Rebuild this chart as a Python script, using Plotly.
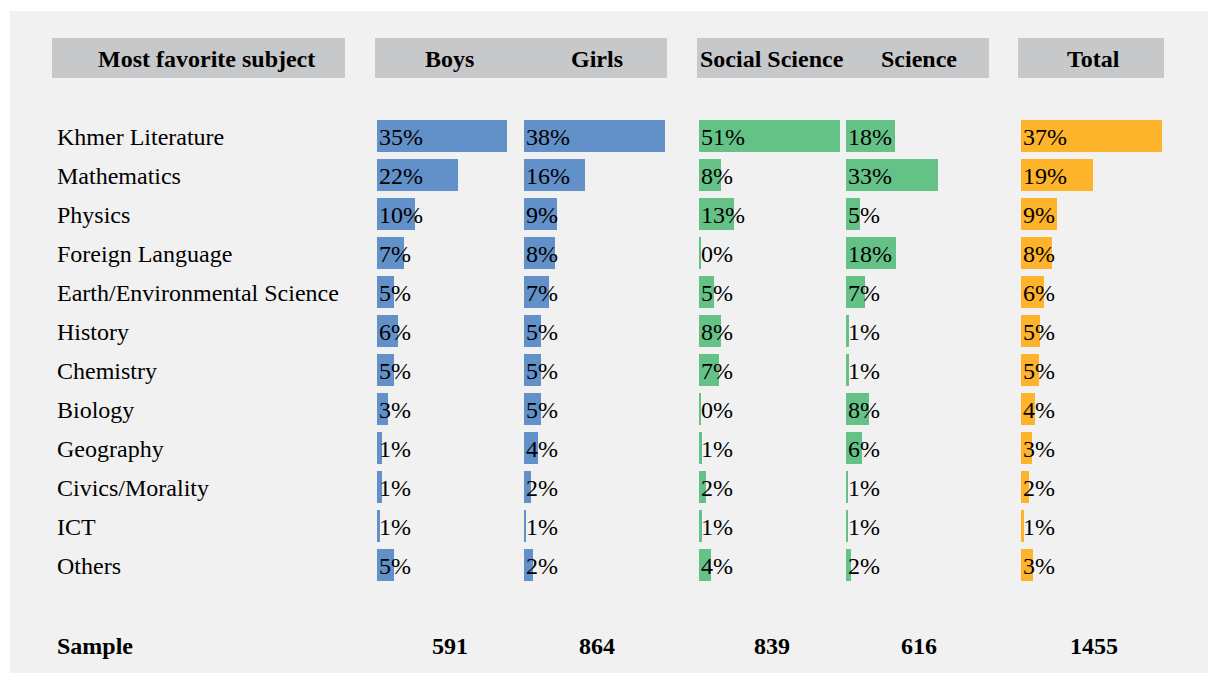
import plotly.graph_objects as go

subjects = ["Khmer Literature", "Mathematics", "Physics", "Foreign Language",
            "Earth/Environmental Science", "History", "Chemistry", "Biology",
            "Geography", "Civics/Morality", "ICT", "Others"]
boys = [35.0, 21.8, 10.2, 7.4, 4.6, 5.7, 4.6, 3.0, 1.4, 1.4, 0.8, 4.6]
girls = [38.0, 16.4, 8.9, 8.4, 6.7, 4.6, 4.6, 4.6, 3.8, 1.9, 0.6, 2.4]
social_science = [51.0, 8.0, 12.7, 0.4, 5.4, 8.0, 7.2, 0.4, 1.0, 2.4, 1.0, 4.3]
science = [17.7, 33.3, 5.1, 18.1, 6.9, 1.1, 1.1, 8.4, 5.8, 0.8, 0.8, 1.8]
total = [37.0, 18.9, 9.4, 8.1, 6.0, 5.0, 4.7, 3.7, 2.9, 2.1, 0.8, 3.1]
column_names = ["Boys", "Girls", "Social Science", "Science", "Total"]
samples = [591, 864, 839, 616, 1455]

W, H = 1208, 673
BLUE, GREEN, ORANGE = "#6290c8", "#65c287", "#fdb42a"
FONT = "Liberation Serif, Times New Roman, serif"
FS = 24

series = [boys, girls, social_science, science, total]
colors = [BLUE, BLUE, GREEN, GREEN, ORANGE]
domains_px = [(377, 518), (524, 665), (699, 840), (846, 987), (1021, 1162)]
gender_max = max(boys + girls)
track_max = max(social_science + science)
ranges = [gender_max, gender_max, track_max, track_max, max(total)]

ypos = list(range(len(subjects)))
header_row = -2
sample_row = len(subjects) + 1

fig = go.Figure()
layout_axes = {}
annotations = []
for k, (vals, col, dom, rmax) in enumerate(zip(series, colors, domains_px, ranges)):
    ax = "x" if k == 0 else f"x{k+1}"
    fig.add_trace(go.Bar(
        x=vals, y=ypos, orientation="h", xaxis=ax, yaxis="y",
        marker=dict(color=col, line=dict(width=0)), width=0.82,
        hoverinfo="skip", showlegend=False))
    for yi, v in zip(ypos, vals):
        annotations.append(dict(text=f"{round(v)}%", xref=ax, yref="y", x=0, y=yi,
                                xanchor="left", yanchor="middle", xshift=0, yshift=-1,
                                showarrow=False,
                                font=dict(family=FONT, size=FS, color="#000")))
    key = "xaxis" if k == 0 else f"xaxis{k+1}"
    layout_axes[key] = dict(domain=[dom[0] / W, dom[1] / W], range=[0, rmax],
                            visible=False, fixedrange=True, anchor="y")

top_i = -136 / 39
bot_i = (H - 136) / 39

shapes = [dict(type="rect", xref="paper", yref="paper", x0=10 / W, x1=1,
               y0=0, y1=1 - 11 / H, fillcolor="#f1f1f1", line=dict(width=0),
               layer="below")]
box_px = [(52, 345), (375, 667), (697, 989), (1018, 1164)]
for x0, x1 in box_px:
    shapes.append(dict(type="rect", xref="paper", yref="y", x0=x0 / W, x1=x1 / W,
                       y0=header_row - 0.51, y1=header_row + 0.51,
                       fillcolor="#c7c8ca", line=dict(width=0), layer="below"))

annotations.append(dict(text="<b>Most favorite subject</b>", xref="paper", yref="y",
                        x=206 / W, y=header_row, yshift=-1, xanchor="center",
                        yanchor="middle", showarrow=False,
                        font=dict(family=FONT, size=FS, color="#000")))
for k, name in enumerate(column_names):
    ax = "x" if k == 0 else f"x{k+1}"
    annotations.append(dict(text=f"<b>{name}</b>", xref=f"{ax} domain", yref="y",
                            x=0.5, y=header_row, xshift=2, yshift=-1, xanchor="center",
                            yanchor="middle", showarrow=False,
                            font=dict(family=FONT, size=FS, color="#000")))
    annotations.append(dict(text=f"<b>{samples[k]}</b>", xref=f"{ax} domain", yref="y",
                            x=0.5, y=sample_row, xshift=2, yshift=-3, xanchor="center",
                            yanchor="middle", showarrow=False,
                            font=dict(family=FONT, size=FS, color="#000")))
for i, s in enumerate(subjects):
    annotations.append(dict(text=s, xref="paper", yref="y", x=55 / W, y=i,
                            yshift=-1, xanchor="left", yanchor="middle", showarrow=False,
                            font=dict(family=FONT, size=FS, color="#000")))
annotations.append(dict(text="<b>Sample</b>", xref="paper", yref="y", x=55 / W,
                        y=sample_row, yshift=-3, xanchor="left", yanchor="middle",
                        showarrow=False, font=dict(family=FONT, size=FS, color="#000")))

fig.update_layout(
    width=W, height=H, margin=dict(l=0, r=0, t=0, b=0),
    paper_bgcolor="#ffffff", plot_bgcolor="rgba(0,0,0,0)",
    yaxis=dict(range=[bot_i, top_i], visible=False, fixedrange=True, domain=[0, 1]),
    shapes=shapes, annotations=annotations, bargap=0,
    **layout_axes)

fig.write_html("out.html", config={"displayModeBar": False},
               post_script="document.body.style.margin='0';document.body.style.overflow='hidden';")
